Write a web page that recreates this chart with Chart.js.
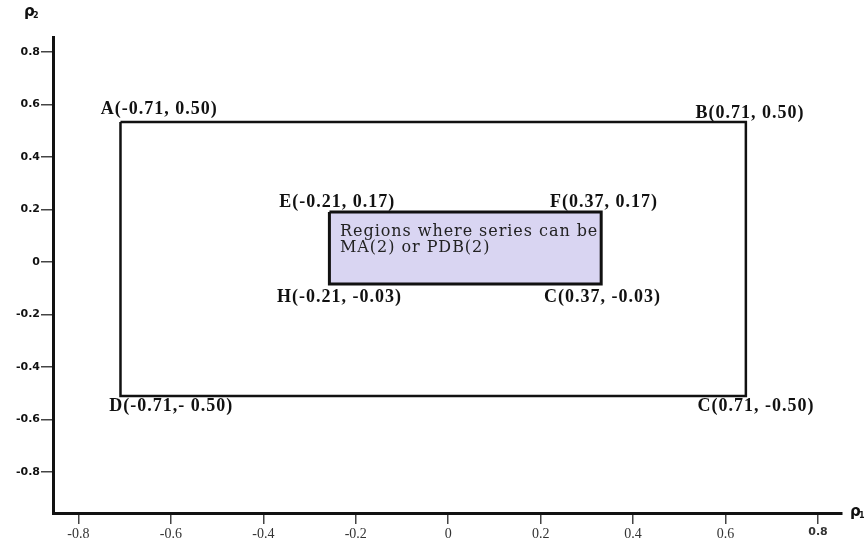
<!DOCTYPE html>
<html>
<head>
<meta charset="utf-8">
<script src="https://cdn.jsdelivr.net/npm/chart.js@4/dist/chart.umd.min.js"></script>
<style>
  html, body { margin: 0; padding: 0; background: #fff; }
  #wrap { width: 865px; height: 545px; position: relative; }
</style>
</head>
<body>
<div id="wrap"><canvas id="regionChart"></canvas></div>
<script>
// 坐标轴刻度
const xTicks = [-0.8, -0.6, -0.4, -0.2, 0, 0.2, 0.4, 0.6, 0.8];
const yTicks = [0.8, 0.6, 0.4, 0.2, 0, -0.2, -0.4, -0.6, -0.8];

// 外框（按图中实际画的位置读取）
const outerX = [-0.709, 0.644];
const outerY = [-0.510, 0.533];

// 内框（MA(2) / PDB(2) 区域）
const innerX = [-0.257, 0.331];
const innerY = [-0.084, 0.190];

// 角点标注
const cornerLabels = [
  'A(-0.71, 0.50)', 'B(0.71, 0.50)', 'E(-0.21, 0.17)', 'F(0.37, 0.17)',
  'H(-0.21, -0.03)', 'C(0.37, -0.03)', 'D(-0.71,- 0.50)', 'C(0.71, -0.50)'
];
const labelX = [-0.625, 0.653, -0.240, 0.337, -0.235, 0.334, -0.599, 0.666];
const labelY = [0.581, 0.568, 0.227, 0.227, -0.135, -0.135, -0.550, -0.550];

// 内框说明文字
const boxText = ['Regions where series can be', 'MA(2) or PDB(2)'];
const boxTextX = -0.234;
const boxTextY = [0.116, 0.055];

function rectPath(xs, ys) {
  return [
    { x: xs[0], y: ys[1] }, { x: xs[1], y: ys[1] },
    { x: xs[1], y: ys[0] }, { x: xs[0], y: ys[0] },
    { x: xs[0], y: ys[1] }
  ];
}

// 文字标注插件
const labelPlugin = {
  id: 'labelPlugin',
  afterDatasetsDraw(chart) {
    const ctx = chart.ctx;
    const xs = chart.scales.x;
    const ys = chart.scales.y;
    ctx.save();
    ctx.fillStyle = '#111';
    ctx.textBaseline = 'middle';

    ctx.font = 'bold 18px "Liberation Serif"';
    ctx.letterSpacing = '1px';
    ctx.textAlign = 'center';
    cornerLabels.forEach((t, i) => {
      ctx.fillText(t, xs.getPixelForValue(labelX[i]), ys.getPixelForValue(labelY[i]));
    });

    ctx.font = '16px "DejaVu Serif"';
    ctx.letterSpacing = '0.95px';
    ctx.textAlign = 'left';
    ctx.fillStyle = '#222';
    boxText.forEach((t, i) => {
      ctx.fillText(t, xs.getPixelForValue(boxTextX), ys.getPixelForValue(boxTextY[i]));
    });

    // 轴标题 ρ1 / ρ2
    ctx.letterSpacing = '0px';
    ctx.fillStyle = '#111';
    ctx.font = 'bold 15px "DejaVu Sans"';
    ctx.fillText('ρ', 24, 12);
    ctx.fillText('ρ', 850, 512);
    ctx.font = 'bold 8px "DejaVu Sans"';
    ctx.fillText('2', 33, 16);
    ctx.fillText('1', 859, 516);
    ctx.restore();
  }
};

const tickFontX = { family: '"Liberation Serif"', size: 14 };
const tickFontBold = { family: '"DejaVu Sans"', size: 11, weight: 'bold' };

new Chart(document.getElementById('regionChart'), {
  type: 'scatter',
  data: {
    datasets: [
      {
        data: rectPath(outerX, outerY),
        showLine: true,
        borderColor: '#111',
        borderWidth: 2.5,
        pointRadius: 0,
        fill: false
      },
      {
        data: rectPath(innerX, innerY),
        showLine: true,
        borderColor: '#111',
        borderWidth: 3,
        backgroundColor: '#d9d5f2',
        pointRadius: 0,
        fill: 'shape'
      }
    ]
  },
  options: {
    responsive: true,
    maintainAspectRatio: false,
    animation: false,
    layout: { padding: { left: 0, top: 37, right: 23, bottom: 0 } },
    plugins: {
      legend: { display: false },
      tooltip: { enabled: false }
    },
    scales: {
      x: {
        type: 'linear',
        min: -0.855,
        max: 0.852,
        afterBuildTicks: s => { s.ticks = xTicks.map(v => ({ value: v })); },
        afterFit: s => { s.height = 32; },
        grid: { drawOnChartArea: false, drawTicks: true, tickLength: 11, color: '#444', lineWidth: 1.5 },
        border: { display: true, color: '#111', width: 3 },
        ticks: {
          autoSkip: false,
          maxRotation: 0,
          padding: 2,
          color: '#333',
          font: c => (c.tick && c.tick.value === 0.8 ? tickFontBold : tickFontX),
          callback: v => (v === 0 ? '0' : v.toFixed(1))
        }
      },
      y: {
        type: 'linear',
        min: -0.956,
        max: 0.857,
        afterBuildTicks: s => { s.ticks = yTicks.map(v => ({ value: v })); },
        afterFit: s => { s.width = 53; },
        grid: { drawOnChartArea: false, drawTicks: true, tickLength: 12, color: '#444', lineWidth: 1.5 },
        border: { display: true, color: '#111', width: 3 },
        ticks: {
          autoSkip: false,
          padding: 1,
          color: '#111',
          font: tickFontBold,
          callback: v => (v === 0 ? '0' : v.toFixed(1))
        }
      }
    }
  },
  plugins: [labelPlugin]
});
</script>
</body>
</html>
